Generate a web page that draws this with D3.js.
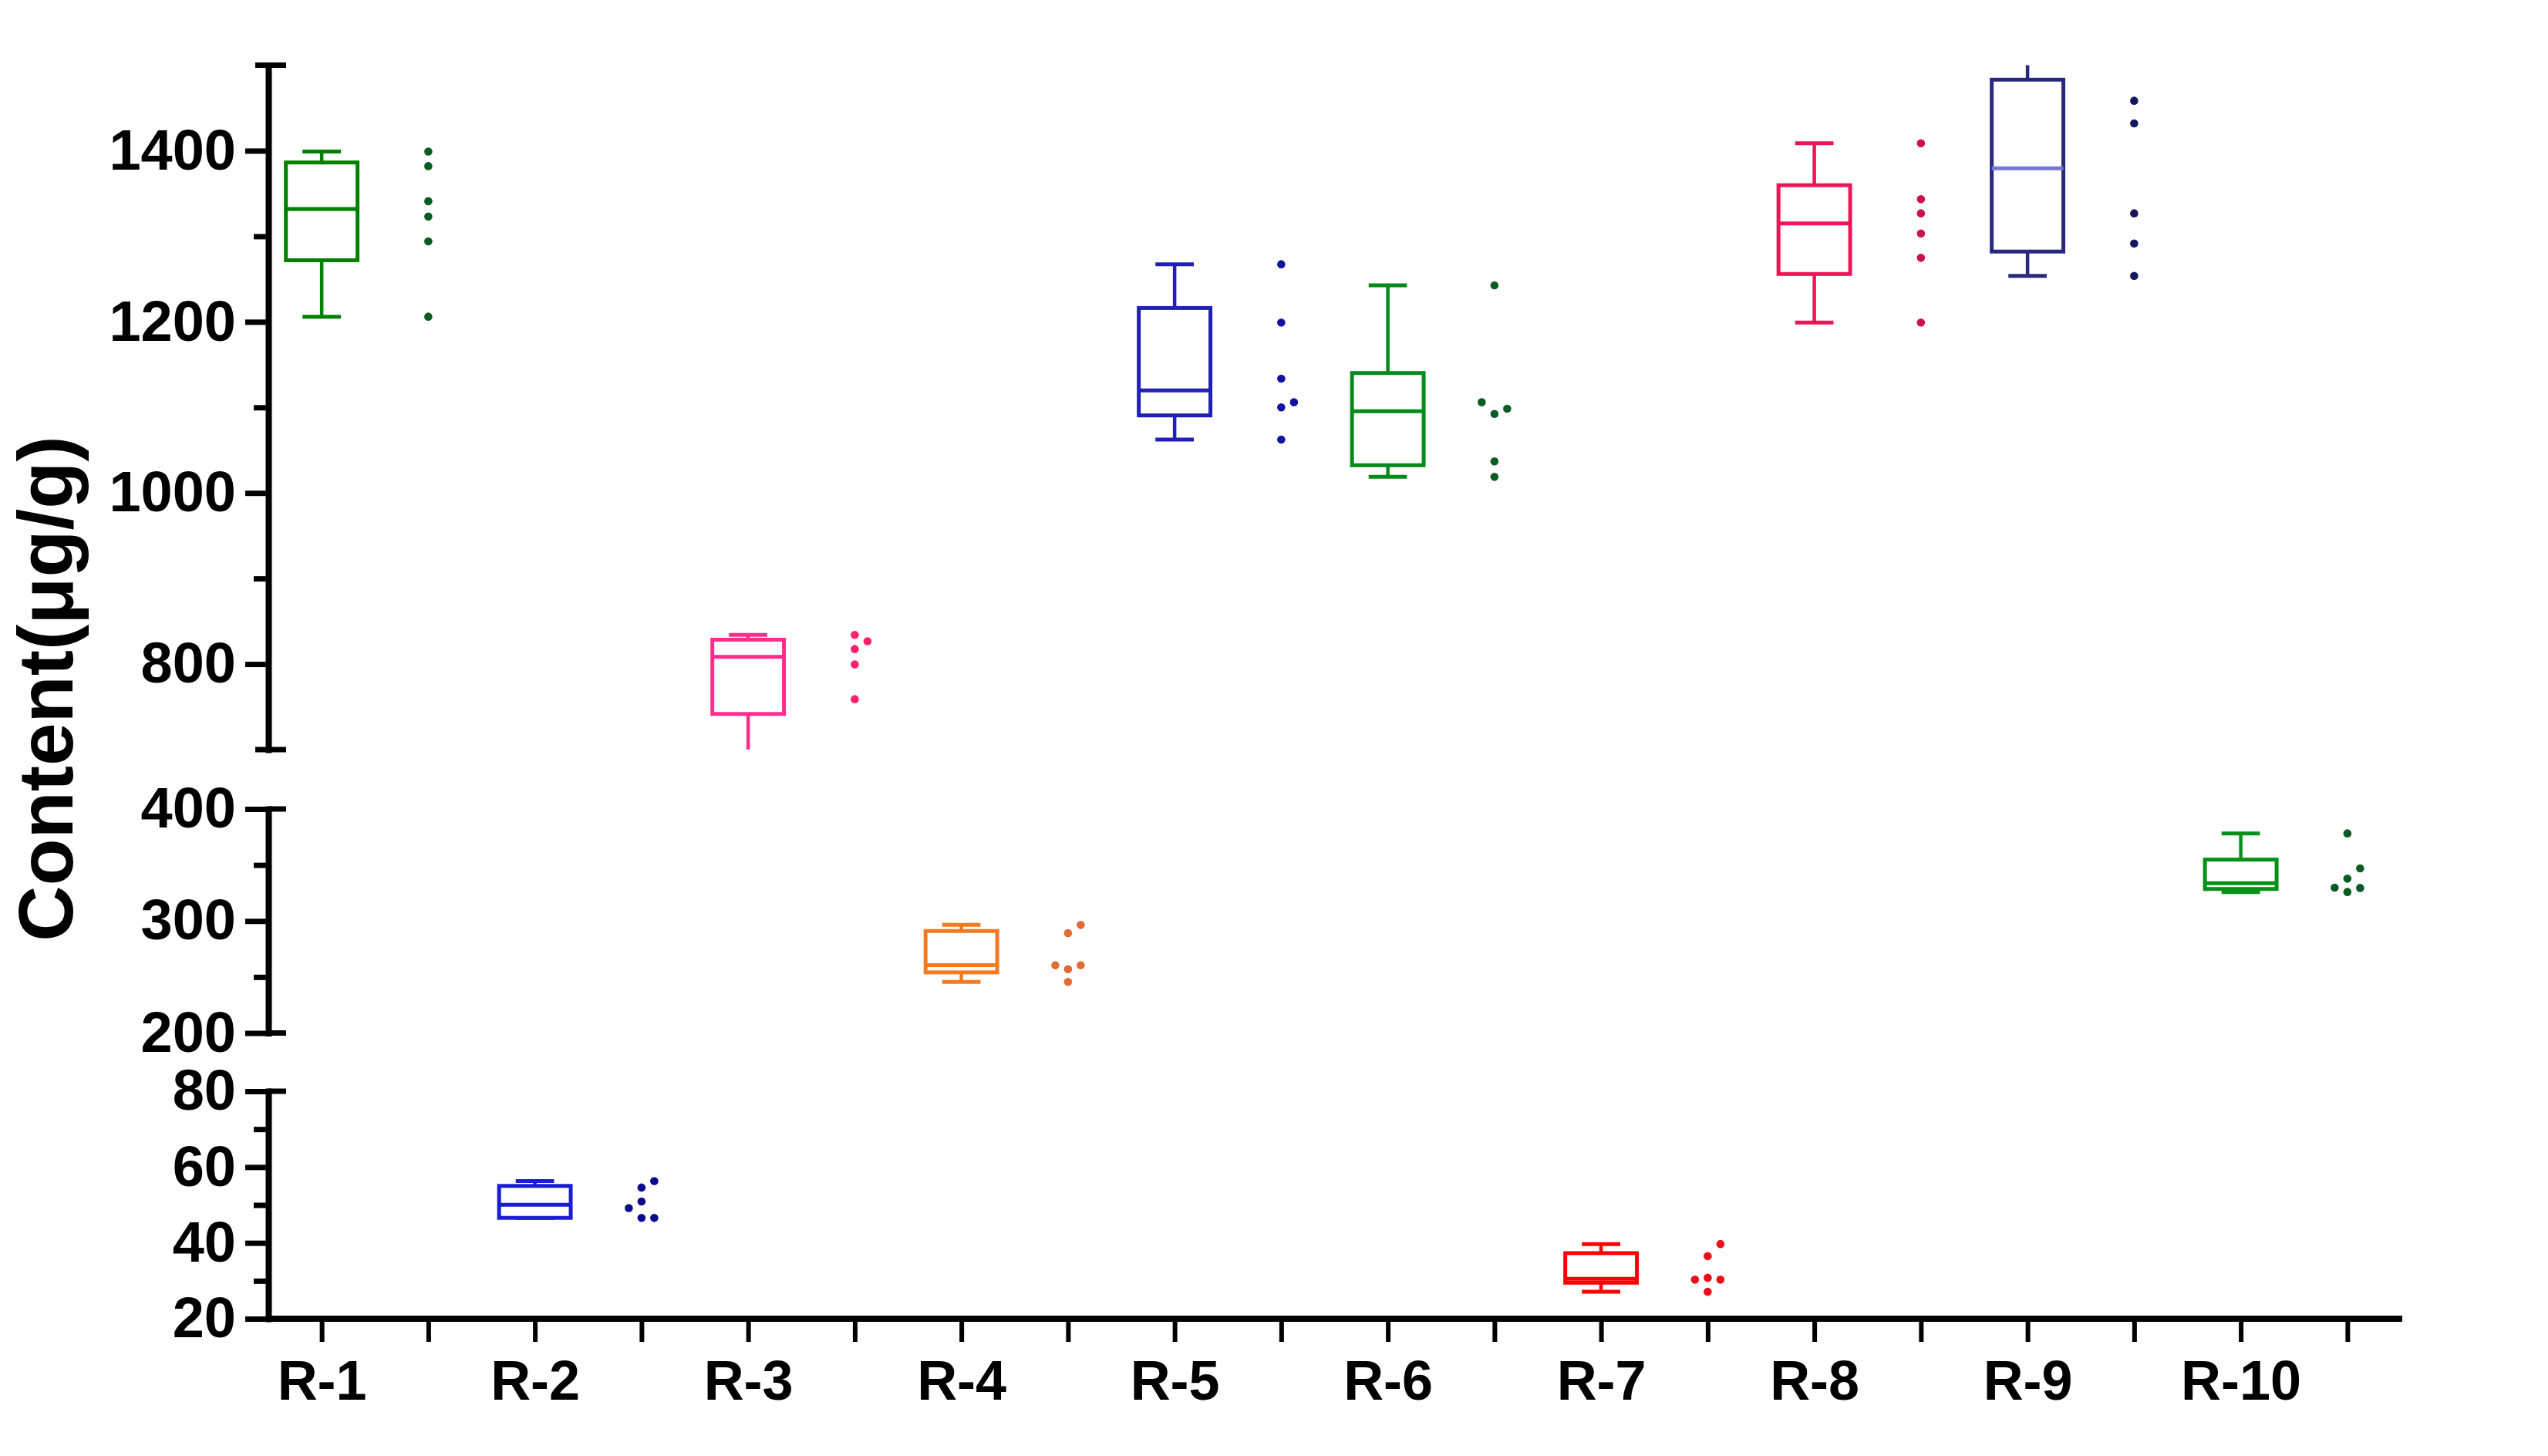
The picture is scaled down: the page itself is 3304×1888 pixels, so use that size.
<!DOCTYPE html>
<html><head><meta charset="utf-8">
<script src="https://cdn.jsdelivr.net/npm/d3@7"></script>
<style>html,body{margin:0;padding:0;background:#fff;} svg{display:block}</style>
</head><body>
<svg id="chart" width="3304" height="1888"></svg>
<script>
// ---------------- data ----------------
const categories = ["R-1","R-2","R-3","R-4","R-5","R-6","R-7","R-8","R-9","R-10"];
const valuesR1  = [1399, 1382, 1341, 1323, 1294, 1206];
const valuesR2  = [56.3, 54.6, 50.9, 49.2, 46.6, 46.6];
const valuesR3  = [834.1, 826.6, 817.5, 799.5, 758.9, 690];
const valuesR4  = [296.5, 289.2, 260.5, 260.5, 257.0, 245.6];
const valuesR5  = [1267.3, 1199.1, 1133.6, 1106, 1100, 1062.4];
const valuesR6  = [1242.6, 1106, 1098.4, 1092.4, 1036.9, 1018.8];
const valuesR7  = [39.7, 36.5, 30.8, 30.3, 30.3, 27.1];
const valuesR8  = [1408.8, 1343.3, 1326.8, 1303.3, 1274.8, 1199.1];
const valuesR9  = [1557, 1458.4, 1432, 1326.8, 1291.6, 1253.7];
const valuesR10 = [378.2, 347, 337.8, 329.8, 329.5, 325.9];
const seriesValues = [valuesR1, valuesR2, valuesR3, valuesR4, valuesR5, valuesR6, valuesR7, valuesR8, valuesR9, valuesR10];

const boxColors    = ["#008000","#1c1cd2","#ff2d8c","#f47a22","#2020b4","#078a1c","#ff0000","#ea1658","#28287e","#06901a"];
const medianColors = ["#008000","#1c1cd2","#ff2d8c","#f47a22","#2020b4","#078a1c","#ff0000","#ea1658","#7676d4","#06901a"];
const dotColors    = ["#0b5c22","#0a0a8e","#ff2070","#e06c34","#1212a0","#0b5c22","#e8101a","#cc1052","#16165e","#0b5c22"];

const yTitle = "Content(\u03bcg/g)";
const topDomain = [700, 1500], topTicks = [800, 1000, 1200, 1400], topMinor = [900, 1100, 1300];
const midDomain = [200, 400],  midTicks = [200, 300, 400],        midMinor = [250, 350];
const lowDomain = [20, 80],    lowTicks = [20, 40, 60, 80],       lowMinor = [30, 50, 70];

// ---------------- layout ----------------
const svg = d3.select("#chart");
const axisX = 348, xRight = 3113, xAxisY = 1710;
const FONT = "'Liberation Sans', Arial, Helvetica, sans-serif";
const AX_W = 7;

const segments = [
  {domain: topDomain, ticks: topTicks, minor: topMinor, y: d3.scaleLinear().domain(topDomain).range([972, 84.5]), capTopLeft: true, capBottomLeft: true},
  {domain: midDomain, ticks: midTicks, minor: midMinor, y: d3.scaleLinear().domain(midDomain).range([1339.5, 1049]), capTopLeft: false, capBottomLeft: false},
  {domain: lowDomain, ticks: lowTicks, minor: lowMinor, y: d3.scaleLinear().domain(lowDomain).range([xAxisY, 1415]), capTopLeft: false, capBottomLeft: null}
];

const xBand = d3.scaleBand().domain(categories).range([axisX, xRight]).padding(0);
const bw = xBand.bandwidth();
const slots = categories.flatMap(c => [c + "|box", c + "|dots"]);
const xSlot = d3.scalePoint().domain(slots).range([axisX + bw * 0.25, xRight - bw * 0.25]);

// ---------------- y axes ----------------
segments.forEach(seg => {
  const g = svg.append("g").attr("transform", `translate(${axisX},0)`);
  g.call(d3.axisLeft(seg.y).tickValues(seg.ticks).tickSize(30).tickSizeOuter(0).tickPadding(12).tickFormat(d3.format("d")));
  const gm = svg.append("g").attr("transform", `translate(${axisX},0)`);
  gm.call(d3.axisLeft(seg.y).tickValues(seg.minor).tickSize(19).tickSizeOuter(0).tickFormat(""));
  gm.select(".domain").remove();
  [g, gm].forEach(s => {
    s.selectAll("line").attr("stroke", "#000").attr("stroke-width", AX_W);
    s.selectAll(".domain").attr("stroke", "#000").attr("stroke-width", AX_W + 1).attr("stroke-linecap", "square");
  });
  g.selectAll("text").attr("font-family", FONT).attr("font-weight", "bold").attr("font-size", 74).attr("fill", "#000");
  // break caps at the segment ends
  const [d0, d1] = seg.domain;
  const caps = [
    {v: d1, left: seg.capTopLeft},
    {v: d0, left: seg.capBottomLeft}
  ].filter(c => c.left !== null);
  caps.forEach(c => {
    svg.append("line")
      .attr("x1", axisX - (c.left ? 17 : 0)).attr("x2", axisX + 23)
      .attr("y1", seg.y(c.v)).attr("y2", seg.y(c.v))
      .attr("stroke", "#000").attr("stroke-width", AX_W);
  });
});

// ---------------- x axis ----------------
const gx = svg.append("g").attr("transform", `translate(0,${xAxisY})`);
gx.call(d3.axisBottom(xSlot).tickSize(30).tickSizeOuter(0).tickPadding(24)
  .tickFormat(d => d.endsWith("|box") ? d.split("|")[0] : ""));
gx.select(".domain").remove();
gx.selectAll("line").attr("stroke", "#000").attr("stroke-width", AX_W - 1);
gx.selectAll("text").attr("font-family", FONT).attr("font-weight", "bold").attr("font-size", 72).attr("fill", "#000");
svg.append("line")
  .attr("x1", xBand.range()[0] - 3).attr("x2", xBand.range()[1] + 2)
  .attr("y1", xAxisY).attr("y2", xAxisY)
  .attr("stroke", "#000").attr("stroke-width", AX_W + 1);

// ---------------- y title ----------------
svg.append("text")
  .attr("transform", `translate(94,893) rotate(-90)`)
  .attr("text-anchor", "middle")
  .attr("font-family", FONT).attr("font-weight", "bold").attr("font-size", 100)
  .attr("fill", "#000")
  .text(yTitle);

// ---------------- stats helpers ----------------
function quart(sorted, p) {
  const n = sorted.length, pos = (n + 1) * p;
  const i = Math.floor(pos), f = pos - i;
  if (i < 1) return sorted[0];
  if (i >= n) return sorted[n - 1];
  return sorted[i - 1] + f * (sorted[i] - sorted[i - 1]);
}
function pickSegment(med) {
  return segments.find(s => med >= s.domain[0] && med <= s.domain[1]) || segments[0];
}

const boxW = bw * 0.336, capW = bw * 0.18, dotR = 5.3, dotStep = 16.5, minD = 16;

categories.forEach((cat, i) => {
  const vals = seriesValues[i].slice().sort((a, b) => a - b);
  const q1 = quart(vals, 0.25), med = quart(vals, 0.5), q3 = quart(vals, 0.75);
  const vmin = vals[0], vmax = vals[vals.length - 1];
  const seg = pickSegment(med);
  const y = seg.y, [lo, hi] = seg.domain;
  const clamp = v => Math.max(lo, Math.min(hi, v));
  const cx = xSlot(cat + "|box");
  const col = boxColors[i];
  const g = svg.append("g");

  // whiskers
  const wTop = clamp(vmax), wBot = clamp(vmin);
  g.append("line").attr("x1", cx).attr("x2", cx).attr("y1", y(q3)).attr("y2", y(wTop))
    .attr("stroke", col).attr("stroke-width", 4.5);
  g.append("line").attr("x1", cx).attr("x2", cx).attr("y1", y(q1)).attr("y2", y(wBot))
    .attr("stroke", col).attr("stroke-width", 4.5);
  if (wTop === vmax) g.append("line").attr("x1", cx - capW / 2).attr("x2", cx + capW / 2)
    .attr("y1", y(vmax)).attr("y2", y(vmax)).attr("stroke", col).attr("stroke-width", 5);
  if (wBot === vmin) g.append("line").attr("x1", cx - capW / 2).attr("x2", cx + capW / 2)
    .attr("y1", y(vmin)).attr("y2", y(vmin)).attr("stroke", col).attr("stroke-width", 5);

  // box
  g.append("rect").attr("x", cx - boxW / 2).attr("width", boxW)
    .attr("y", y(q3)).attr("height", Math.max(0.5, y(q1) - y(q3)))
    .attr("fill", "#fff").attr("stroke", col).attr("stroke-width", 5);
  g.append("line").attr("x1", cx - boxW / 2).attr("x2", cx + boxW / 2)
    .attr("y1", y(med)).attr("y2", y(med)).attr("stroke", medianColors[i]).attr("stroke-width", 5);

  // dots (simple swarm so overlapping values sit side by side)
  const dx = xSlot(cat + "|dots");
  const placed = [];
  vals.forEach(v => {
    if (v < lo || v > hi) return;
    const py = y(v);
    for (const k of [0, 1, -1, 2, -2]) {
      const px = dx + k * dotStep;
      if (placed.every(p => Math.hypot(p.x - px, p.y - py) >= minD)) { placed.push({x: px, y: py}); break; }
    }
  });
  g.selectAll("circle.dot").data(placed).join("circle").attr("class", "dot")
    .attr("cx", d => d.x).attr("cy", d => d.y).attr("r", dotR).attr("fill", dotColors[i]);
});
</script>
</body></html>
